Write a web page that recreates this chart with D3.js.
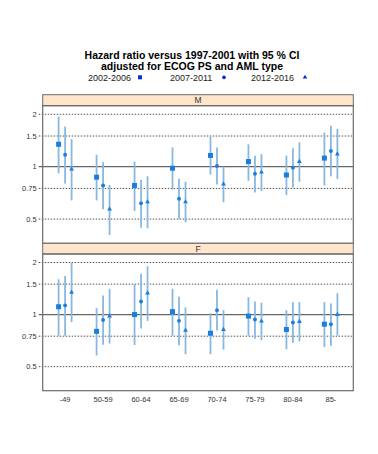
<!DOCTYPE html>
<html>
<head>
<meta charset="utf-8">
<script src="https://cdn.jsdelivr.net/npm/d3@7"></script>
<style>
body { margin: 0; background: #fff; }
text { font-family: "Liberation Sans", Arial, sans-serif; }
</style>
</head>
<body>
<div id="app"></div>
<script>
var ageGroups = ["-49", "50-59", "60-64", "65-69", "70-74", "75-79", "80-84", "85-"];
var periods = ["2002-2006", "2007-2011", "2012-2016"];
var yTicks = [0.5, 0.75, 1, 1.5, 2];
var yTickLabels = ["0.5", "0.75", "1", "1.5", "2"];
var sexes = ["M", "F"];

// hazard ratio, lower and upper 95% limits, per period, per age group
var hrM_2002 = [1.345, 0.87, 0.78, 0.98, 1.16, 1.07, 0.896, 1.12];
var loM_2002 = [0.917, 0.64, 0.557, 0.74, 0.90, 0.83, 0.687, 0.78];
var hiM_2002 = [1.94, 1.17, 1.07, 1.29, 1.49, 1.345, 1.157, 1.57];
var hrM_2007 = [1.17, 0.78, 0.616, 0.655, 1.01, 0.91, 0.987, 1.23];
var loM_2007 = [0.80, 0.57, 0.446, 0.50, 0.79, 0.71, 0.76, 0.88];
var hiM_2007 = [1.70, 1.06, 0.84, 0.853, 1.29, 1.157, 1.275, 1.72];
var hrM_2012 = [0.97, 0.57, 0.627, 0.627, 0.795, 0.93, 1.07, 1.18];
var loM_2012 = [0.64, 0.405, 0.443, 0.48, 0.625, 0.725, 0.82, 0.85];
var hiM_2012 = [1.44, 0.785, 0.88, 0.82, 1.0, 1.18, 1.38, 1.65];

var hrF_2002 = [1.11, 0.80, 1.0, 1.04, 0.78, 0.98, 0.82, 0.88];
var loF_2002 = [0.754, 0.58, 0.667, 0.754, 0.59, 0.754, 0.63, 0.65];
var hiF_2002 = [1.60, 1.09, 1.50, 1.41, 1.02, 1.26, 1.06, 1.18];
var hrF_2007 = [1.13, 0.93, 1.19, 0.92, 1.06, 0.936, 0.90, 0.88];
var loF_2007 = [0.754, 0.67, 0.83, 0.664, 0.81, 0.725, 0.685, 0.66];
var hiF_2007 = [1.67, 1.29, 1.72, 1.27, 1.39, 1.19, 1.18, 1.16];
var hrF_2012 = [1.345, 0.98, 1.33, 0.81, 0.82, 0.916, 0.91, 1.0];
var loF_2012 = [0.905, 0.68, 0.92, 0.59, 0.627, 0.71, 0.70, 0.757];
var hiF_2012 = [1.99, 1.41, 1.90, 1.10, 1.06, 1.17, 1.18, 1.33];

var series = {
    M: [[hrM_2002, loM_2002, hiM_2002], [hrM_2007, loM_2007, hiM_2007], [hrM_2012, loM_2012, hiM_2012]],
    F: [[hrF_2002, loF_2002, hiF_2002], [hrF_2007, loF_2007, hiF_2007], [hrF_2012, loF_2012, hiF_2012]]
};

var width = 378, height = 454;
var left = 42.7, right = 353.3;
var panels = [
    { name: "M", stripTop: 94.7, top: 105.7, bottom: 243.3 },
    { name: "F", stripTop: 243.3, top: 254, bottom: 390.7 }
];
var pointColor = "#1a7ee0", ciColor = "#88b8e0", legendColor = "#0a2cd0";
var offsets = [-6.5, 0, 6.5];

var svg = d3.select("#app").append("svg")
    .attr("width", width)
    .attr("height", height);

// title
svg.append("text").attr("x", 192).attr("y", 59)
    .attr("text-anchor", "middle").attr("font-size", 10.5).attr("font-weight", "bold")
    .text("Hazard ratio versus 1997-2001 with 95 % CI");
svg.append("text").attr("x", 192).attr("y", 70)
    .attr("text-anchor", "middle").attr("font-size", 10.5).attr("font-weight", "bold")
    .text("adjusted for ECOG PS and AML type");

// legend
var legendX = [88, 170, 251], legendMarkX = [140, 224, 305];
periods.forEach(function (p, i) {
    svg.append("text").attr("x", legendX[i]).attr("y", 80.5)
        .attr("font-size", 9).attr("fill", "#222").text(p);
    drawMarker(svg, i, legendMarkX[i], 77.3, legendColor, 0.8);
});

var x = d3.scaleLinear()
    .domain([0.41, 8.59])
    .range([left, right]);

function drawMarker(g, kind, cx, cy, color, k) {
    if (kind === 0) {
        var s = 5 * k;
        g.append("rect").attr("x", cx - s / 2).attr("y", cy - s / 2)
            .attr("width", s).attr("height", s).attr("fill", color);
    } else if (kind === 1) {
        g.append("circle").attr("cx", cx).attr("cy", cy).attr("r", 2.3 * k).attr("fill", color);
    } else {
        g.append("path")
            .attr("d", d3.symbol().type(d3.symbolTriangle).size(14 * k * k)())
            .attr("transform", "translate(" + cx + "," + cy + ")")
            .attr("fill", color);
    }
}

panels.forEach(function (pn) {
    var g = svg.append("g");
    var y = d3.scaleLog()
        .domain([0.363, 2.24])
        .range([pn.bottom, pn.top]);

    // strip
    g.append("rect").attr("x", left).attr("y", pn.stripTop)
        .attr("width", right - left).attr("height", pn.top - pn.stripTop)
        .attr("fill", "#ffe5cc").attr("stroke", "#6b6b6b").attr("stroke-width", 1);
    g.append("text").attr("x", (left + right) / 2).attr("y", pn.stripTop + 8.6)
        .attr("text-anchor", "middle").attr("font-size", 8.5).attr("fill", "#333")
        .text(pn.name);

    // grid
    yTicks.forEach(function (t, i) {
        g.append("line")
            .attr("x1", left - 4).attr("x2", right)
            .attr("y1", y(t)).attr("y2", y(t))
            .attr("stroke", t === 1 ? "#666" : "#555")
            .attr("stroke-width", t === 1 ? 1.3 : 1)
            .attr("stroke-dasharray", t === 1 ? null : "1.5,1.5");
        g.append("text").attr("x", left - 6).attr("y", y(t) + 2.8)
            .attr("text-anchor", "end").attr("font-size", 7.5).attr("fill", "#333")
            .text(yTickLabels[i]);
    });

    // CI bars and points
    series[pn.name].forEach(function (s, k) {
        ageGroups.forEach(function (a, j) {
            var cx = x(j + 1) + offsets[k];
            g.append("line")
                .attr("x1", cx).attr("x2", cx)
                .attr("y1", y(s[1][j])).attr("y2", y(s[2][j]))
                .attr("stroke", ciColor).attr("stroke-width", 1.8);
        });
    });
    series[pn.name].forEach(function (s, k) {
        ageGroups.forEach(function (a, j) {
            drawMarker(g, k, x(j + 1) + offsets[k], y(s[0][j]), pointColor, k === 0 ? 1 : 0.85);
        });
    });

    // panel box
    g.append("rect").attr("x", left).attr("y", pn.top)
        .attr("width", right - left).attr("height", pn.bottom - pn.top)
        .attr("fill", "none").attr("stroke", "#6b6b6b").attr("stroke-width", 1.2);
});

// x labels
ageGroups.forEach(function (a, j) {
    svg.append("text").attr("x", x(j + 1)).attr("y", 402)
        .attr("text-anchor", "middle").attr("font-size", 7.5).attr("fill", "#333")
        .text(a);
});
</script>
</body>
</html>
